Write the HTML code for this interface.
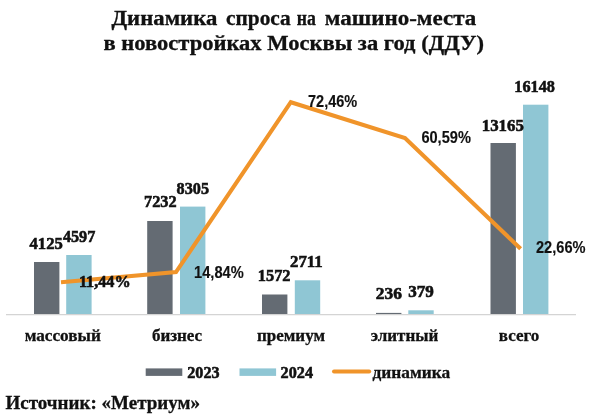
<!DOCTYPE html>
<html><head><meta charset="utf-8">
<style>
html,body{margin:0;padding:0;background:#fff;}
body{width:600px;height:416px;overflow:hidden;position:relative;}
svg{position:absolute;left:0;top:0;}
text{font-family:"Liberation Serif",serif;font-weight:bold;fill:#111;stroke:#111;stroke-width:0.3px;}
.t{font-size:20.5px;}
.v{font-size:17.5px;stroke-width:0.6px;}
.c{font-size:17px;}
.p{font-family:"Liberation Sans",sans-serif;font-size:15.6px;stroke-width:0.15px;}
.s{font-size:18.7px;}
</style></head><body>
<svg width="600" height="416" viewBox="0 0 600 416">
<rect width="600" height="416" fill="#fff"/>
<text class="t" y="25"><tspan x="111.5" textLength="105.8" lengthAdjust="spacingAndGlyphs">Динамика</tspan> <tspan x="226" textLength="64.8" lengthAdjust="spacingAndGlyphs">спроса</tspan> <tspan x="296.7" textLength="19.1" lengthAdjust="spacingAndGlyphs">на</tspan> <tspan x="324.7" textLength="151.6" lengthAdjust="spacingAndGlyphs">машино-места</tspan></text>
<text class="t" x="103.5" y="49.6" textLength="380.5" lengthAdjust="spacingAndGlyphs">в новостройках Москвы за год (ДДУ)</text>
<line x1="6" y1="314.6" x2="576" y2="314.6" stroke="#d4d4d4" stroke-width="1.2"/>
<g fill="#646b73">
<rect x="34" y="262" width="25.4" height="52"/>
<rect x="147.2" y="221" width="25.4" height="93"/>
<rect x="262" y="294.5" width="25.4" height="19.5"/>
<rect x="376" y="312.9" width="25.4" height="1.1"/>
<rect x="490.5" y="143" width="25.4" height="171"/>
</g><g fill="#8fc6d4">
<rect x="66.2" y="255" width="25.4" height="59"/>
<rect x="180" y="206.6" width="25.4" height="107.4"/>
<rect x="294.8" y="280.3" width="25.4" height="33.7"/>
<rect x="408.3" y="310.3" width="25.4" height="3.7"/>
<rect x="523" y="104.7" width="25.4" height="209.3"/>
</g>
<polyline points="61,282.2 176,272.1 290.8,102.2 405,138 520.6,248.8" fill="none" stroke="#f0942a" stroke-width="4.1" stroke-linejoin="miter"/>
<text class="v" x="29.5" y="248.5" textLength="33.3" lengthAdjust="spacingAndGlyphs">4125</text>
<text class="v" x="62.9" y="242.3" textLength="32.4" lengthAdjust="spacingAndGlyphs">4597</text>
<text class="v" x="144.1" y="207.3" textLength="32.5" lengthAdjust="spacingAndGlyphs">7232</text>
<text class="v" x="176.6" y="193.6" textLength="32.4" lengthAdjust="spacingAndGlyphs">8305</text>
<text class="v" x="257.8" y="281.2" textLength="32.7" lengthAdjust="spacingAndGlyphs">1572</text>
<text class="v" x="290" y="267.1" textLength="32.7" lengthAdjust="spacingAndGlyphs">2711</text>
<text class="v" x="375.8" y="299.4" textLength="26.0" lengthAdjust="spacingAndGlyphs" style="font-size:16.3px">236</text>
<text class="v" x="408.3" y="297.2" textLength="25.6" lengthAdjust="spacingAndGlyphs" style="font-size:16.3px">379</text>
<text class="v" x="481.8" y="131" textLength="42.0" lengthAdjust="spacingAndGlyphs">13165</text>
<text class="v" x="514.3" y="91.9" textLength="40.6" lengthAdjust="spacingAndGlyphs">16148</text>
<text class="v" x="78.9" y="287.3" textLength="51.7" lengthAdjust="spacingAndGlyphs" style="font-size:16.6px">11,44%</text>
<text class="p" x="194.1" y="277.6" textLength="49.6" lengthAdjust="spacingAndGlyphs">14,84%</text>
<text class="p" x="308" y="107.2" textLength="49.2" lengthAdjust="spacingAndGlyphs">72,46%</text>
<text class="p" x="421.4" y="142.9" textLength="49.5" lengthAdjust="spacingAndGlyphs">60,59%</text>
<text class="p" x="536" y="253.2" textLength="49.5" lengthAdjust="spacingAndGlyphs">22,66%</text>
<text class="c" x="24.7" y="341.2" textLength="76.1" lengthAdjust="spacingAndGlyphs">массовый</text>
<g class="c" text-anchor="middle">
<text x="177" y="341.2">бизнес</text>
<text x="291" y="341.2">премиум</text>
<text x="404.5" y="341.2">элитный</text>
<text x="519" y="341.2">всего</text>
</g>
<rect x="145.7" y="368.4" width="36.6" height="7.5" fill="#646b73"/>
<text class="v" x="187.3" y="377.7" textLength="32.2" lengthAdjust="spacingAndGlyphs">2023</text>
<rect x="239.5" y="368.4" width="36.6" height="7.5" fill="#8fc6d4"/>
<text class="v" x="280.6" y="377.7" textLength="32.4" lengthAdjust="spacingAndGlyphs">2024</text>
<line x1="334" y1="371.5" x2="369.2" y2="371.5" stroke="#f0942a" stroke-width="4" stroke-linecap="round"/>
<text class="c" x="372.5" y="377.5" textLength="77.6" lengthAdjust="spacingAndGlyphs">динамика</text>
<text class="s" x="5.5" y="409" textLength="194.5" lengthAdjust="spacingAndGlyphs">Источник: «Метриум»</text>
</svg>
</body></html>
